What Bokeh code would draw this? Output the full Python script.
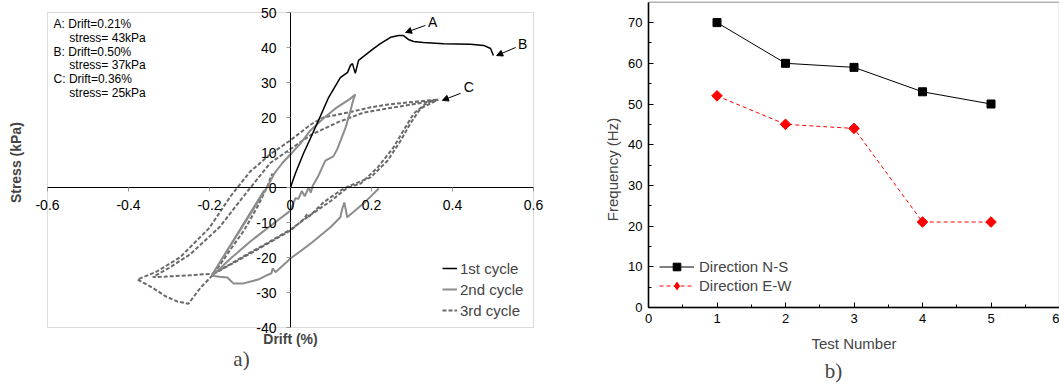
import math
from bokeh.plotting import figure
from bokeh.models import (Range1d, FixedTicker, Label, Arrow, NormalHead, BoxAnnotation,
                          ColumnDataSource, Legend, LegendItem)
from bokeh.layouts import row
from bokeh.embed import file_html
from bokeh.resources import INLINE
from bokeh.core.properties import value

SANS = "Liberation Sans"
SERIF = "Liberation Serif"

# ---------------- Panel a) : hysteresis data (drift %, stress kPa) ----------------
cycle1_drift = [0.0, 0.012, 0.032, 0.049, 0.069, 0.094, 0.123, 0.141, 0.148, 0.153, 0.160,
                0.168, 0.190, 0.205, 0.222, 0.247, 0.267, 0.279, 0.291, 0.304, 0.328,
                0.378, 0.444, 0.477, 0.494, 0.501]
cycle1_stress = [0.0, 4.0, 9.7, 14.0, 19.1, 25.7, 31.4, 32.9, 34.9, 35.4, 32.6,
                 36.3, 38.3, 39.7, 41.1, 42.9, 43.4, 43.4, 42.3, 41.7, 41.4,
                 41.1, 40.9, 40.6, 39.7, 37.7]

cycle2_drift = [-0.065, -0.195, -0.058, -0.040, -0.020, 0.000, 0.025, 0.049, 0.081, 0.111,
                0.148, 0.160, 0.156, 0.146, 0.136, 0.116, 0.106, 0.086, 0.067, 0.055,
                0.050, 0.045, 0.035, 0.028, 0.020, 0.012, 0.000, -0.050, -0.100, -0.150,
                -0.193, -0.175, -0.156, -0.141, -0.116, -0.080, -0.059, -0.047, -0.044,
                -0.037, 0.000, 0.050, 0.100, 0.123, 0.128, 0.133, 0.140, 0.180, 0.218]
cycle2_stress = [-0.8, -25.2, 0.0, 4.0, 7.0, 9.5, 12.6, 16.3, 19.7, 22.6,
                 25.4, 26.6, 25.4, 21.1, 17.1, 11.1, 8.9, 7.7, 2.9, 0.5,
                 -1.5, 0.0, -2.5, -1.0, -3.2, -3.1, -6.6, -11.0, -15.5, -20.5,
                 -25.2, -25.5, -25.7, -27.4, -27.4, -26.3, -25.1, -24.5, -23.1,
                 -24.2, -20.3, -16.0, -11.2, -8.5, -6.0, -4.3, -8.5, -4.6, -0.3]

cycle3_drift = [-0.190, -0.140, -0.100, -0.050, 0.000, 0.035, 0.041, 0.046, 0.082, 0.123, 0.144,
                0.198, 0.240, 0.272, 0.296, 0.321, 0.365,
                0.314, 0.240, 0.180, 0.116, 0.074, 0.050, 0.000, -0.050, -0.109, -0.175,
                -0.247, -0.300, -0.340,
                -0.300, -0.250, -0.190,
                -0.150, -0.100, -0.050, 0.000, 0.050, 0.100, 0.141,
                0.173, 0.215, 0.254, 0.279, 0.304, 0.338, 0.365,
                0.314, 0.240, 0.198, 0.141, 0.081, 0.050, 0.000, -0.050, -0.100, -0.148,
                -0.200, -0.272, -0.330, -0.378,
                -0.341, -0.310, -0.279, -0.252, -0.222, -0.190, -0.156, -0.115, -0.082,
                -0.058, -0.045]
cycle3_stress = [-24.7, -21.5, -18.9, -15.6, -12.3, -8.8, -7.5, -8.3, -4.2, -0.9, 0.4,
                 2.9, 7.7, 13.4, 18.3, 22.6, 25.1,
                 24.0, 22.6, 21.4, 18.6, 16.3, 15.0, 11.0, 7.0, -1.5, -11.3,
                 -19.0, -23.0, -25.6,
                 -25.4, -25.1, -24.6,
                 -22.0, -18.6, -15.4, -12.0, -7.8, -3.8, 0.0,
                 1.1, 5.7, 11.4, 16.3, 21.1, 24.3, 25.1,
                 24.6, 23.7, 22.9, 21.4, 20.0, 18.0, 13.5, 9.5, 4.5, -2.5,
                 -11.5, -19.9, -24.0, -26.3,
                 -28.6, -31.0, -32.6, -33.2, -28.6, -24.8, -19.0, -12.3, -5.6,
                 0.1, 4.0]

cycle_names = ["1st cycle", "2nd cycle", "3rd cycle"]

drift_ticks = [-0.6, -0.4, -0.2, 0.0, 0.2, 0.4, 0.6]
drift_tick_labels = ["-0.6", "-0.4", "-0.2", "0", "0.2", "0.4", "0.6"]
stress_ticks = [-40, -30, -20, -10, 0, 10, 20, 30, 40, 50]
stress_tick_labels = ["-40", "-30", "-20", "-10", "0", "10", "20", "30", "40", "50"]

point_names = ["A", "B", "C"]
point_text_drift = [0.351, 0.573, 0.440]
point_text_stress = [47.4, 41.1, 28.6]
arrow_from_drift = [0.333, 0.556, 0.420]
arrow_from_stress = [46.3, 40.0, 26.9]
arrow_to_drift = [0.284, 0.509, 0.375]
arrow_to_stress = [44.3, 37.7, 24.9]

note_lines = ["A: Drift=0.21%", "stress= 43kPa",
              "B: Drift=0.50%", "stress= 37kPa",
              "C: Drift=0.36%", "stress= 25kPa"]

# ---------------- Panel b) : frequency data ----------------
test_number = [1, 2, 3, 4, 5]
freq_ns = [70, 60, 59, 53, 50]
freq_ew = [52, 45, 44, 21, 21]
series_names = ["Direction N-S", "Direction E-W"]
test_ticks = [0, 1, 2, 3, 4, 5, 6]
test_minor = [0.5, 1.5, 2.5, 3.5, 4.5, 5.5]
freq_ticks = [0, 10, 20, 30, 40, 50, 60, 70]
freq_minor = [5, 15, 25, 35, 45, 55, 65]

# ---------------- layout calibration (pixels) ----------------
W1, W2, H = 565, 494, 385
A_X0, A_PX = 290.0, 405.0      # drift 0 at x=290 px, 405 px per 1 %
A_Y0, A_PY = 187.0, 3.5        # stress 0 at y=187 px, 3.5 px per kPa
B_LEFT = W1
B_X0, B_PX = 648.0, 68.5
B_Y0, B_PY = 307.0, 4.07

a_xr = Range1d((0 - A_X0) / A_PX, (W1 - A_X0) / A_PX)
a_yr = Range1d((A_Y0 - H) / A_PY, A_Y0 / A_PY)
b_xr = Range1d((B_LEFT - B_X0) / B_PX, (B_LEFT + W2 - B_X0) / B_PX)
b_yr = Range1d((B_Y0 - H) / B_PY, B_Y0 / B_PY)

# ======================= figure a =======================
p1 = figure(width=W1, height=H, x_range=a_xr, y_range=a_yr,
            output_backend="svg", toolbar_location=None, min_border=0)
p1.grid.visible = False
p1.outline_line_color = None
p1.background_fill_color = "white"
p1.border_fill_color = "white"

p1.add_layout(BoxAnnotation(left=drift_ticks[0], right=drift_ticks[-1],
                            bottom=stress_ticks[0], top=stress_ticks[-1],
                            fill_alpha=0, line_color="#8a8a8a", line_width=1, level="underlay"))

xa = p1.xaxis[0]
ya = p1.yaxis[0]
xa.ticker = FixedTicker(ticks=drift_ticks, minor_ticks=[])
xa.major_label_overrides = dict(zip(drift_ticks, drift_tick_labels))
xa.bounds = (drift_ticks[0], drift_ticks[-1])
ya.ticker = FixedTicker(ticks=stress_ticks, minor_ticks=[])
ya.major_label_overrides = dict(zip(stress_ticks, stress_tick_labels))
ya.bounds = (stress_ticks[0], stress_ticks[-1])
for ax in (xa, ya):
    ax.fixed_location = 0
    ax.axis_line_color = "black"
    ax.axis_line_width = 1
    ax.major_tick_line_color = "#9a9a9a"
    ax.major_tick_in = 0
    ax.major_tick_out = 4
    ax.minor_tick_line_color = None
    ax.major_label_text_font = SANS
    ax.major_label_text_font_size = "14px"
    ax.major_label_text_color = "black"
xa.major_label_standoff = 8
ya.major_label_standoff = 10

r3 = p1.line(cycle3_drift, cycle3_stress, line_color="#6a6a6a", line_width=2, line_dash="4 2")
r2 = p1.line(cycle2_drift, cycle2_stress, line_color="#8c8c8c", line_width=2)
r1 = p1.line(cycle1_drift, cycle1_stress, line_color="black", line_width=1.5)

leg1 = Legend(items=[LegendItem(label=cycle_names[0], renderers=[r1]),
                     LegendItem(label=cycle_names[1], renderers=[r2]),
                     LegendItem(label=cycle_names[2], renderers=[r3])],
              location=(442, 66), border_line_color=None, background_fill_alpha=0,
              label_text_font=SANS, label_text_font_size="15px",
              glyph_width=15, glyph_height=18, label_height=18, label_standoff=3,
              spacing=3, padding=2, margin=0)
p1.add_layout(leg1)

note_x = [-0.585 if i % 2 == 0 else -0.546 for i in range(len(note_lines))]
note_y = [46.6 - 3.9 * i for i in range(len(note_lines))]
p1.text(x=note_x, y=note_y, text=note_lines, text_font=value(SANS), text_font_size="12px",
        text_align="left", text_baseline="middle", text_color="black")

p1.text(x=point_text_drift, y=point_text_stress, text=point_names, text_font=value(SANS),
        text_font_size="14px", text_align="center", text_baseline="middle", text_color="black")
arrow_src = ColumnDataSource(dict(x0=arrow_from_drift, y0=arrow_from_stress,
                                  x1=arrow_to_drift, y1=arrow_to_stress))
p1.add_layout(Arrow(end=NormalHead(size=6, fill_color="black", line_color="black", line_width=1),
                    x_start="x0", y_start="y0", x_end="x1", y_end="y1", source=arrow_src,
                    line_color="black", line_width=1))

p1.add_layout(Label(x=0, y=-43.4, text="Drift (%)", text_font=SANS, text_font_size="14px",
                    text_font_style="bold", text_align="center", text_baseline="middle"))
p1.add_layout(Label(x=-0.679, y=7.1, text="Stress (kPa)", text_font=SANS, text_font_size="14px",
                    text_font_style="bold", text_align="center", text_baseline="middle",
                    angle=math.pi / 2))
p1.add_layout(Label(x=-0.121, y=-49.1, text="a)", text_font=SERIF, text_font_size="21px",
                    text_align="center", text_baseline="middle"))

# ======================= figure b =======================
p2 = figure(width=W2, height=H, x_range=b_xr, y_range=b_yr,
            output_backend="svg", toolbar_location=None, min_border=0)
p2.grid.visible = False
p2.outline_line_color = None
p2.background_fill_color = "white"
p2.border_fill_color = "white"

p2.add_layout(BoxAnnotation(left=test_ticks[0], right=test_ticks[-1], bottom=0, top=75,
                            fill_alpha=0, line_color="black", line_width=1.5, level="underlay"))

xb = p2.xaxis[0]
yb = p2.yaxis[0]
xb.ticker = FixedTicker(ticks=test_ticks, minor_ticks=test_minor)
xb.bounds = (test_ticks[0], test_ticks[-1])
yb.ticker = FixedTicker(ticks=freq_ticks, minor_ticks=freq_minor)
yb.bounds = (0, 75)
for ax in (xb, yb):
    ax.fixed_location = 0
    ax.axis_line_color = "black"
    ax.axis_line_width = 1.5
    ax.major_tick_line_color = "black"
    ax.major_tick_line_width = 1
    ax.major_tick_in = 5
    ax.major_tick_out = 0
    ax.minor_tick_line_color = "black"
    ax.minor_tick_in = 3
    ax.minor_tick_out = 0
    ax.major_label_text_font = SANS
    ax.major_label_text_font_size = "13px"
    ax.major_label_text_color = "black"
xb.major_label_standoff = 6
yb.major_label_standoff = 6

ns_line = p2.line(test_number, freq_ns, line_color="black", line_width=1)
ns_pts = p2.scatter(test_number, freq_ns, marker="square", size=8, fill_color="black",
                    line_color="black")
ew_line = p2.line(test_number, freq_ew, line_color="red", line_width=1, line_dash="4 3")
# diamond symbol (used as legend key; hidden below the rotated squares)
ew_key = p2.scatter(test_number, freq_ew, marker="diamond", size=9, fill_color="red",
                    line_color="red")
ew_pts = p2.scatter(test_number, freq_ew, marker="square", angle=math.pi / 4, size=7.5,
                    fill_color="red", line_color="red")

leg2 = Legend(items=[LegendItem(label=series_names[0], renderers=[ns_line, ns_pts]),
                     LegendItem(label=series_names[1], renderers=[ew_line, ew_key])],
              location=(94, 90), border_line_color=None, background_fill_alpha=0,
              label_text_font=SANS, label_text_font_size="15px",
              glyph_width=35, glyph_height=19, label_height=19, label_standoff=5,
              spacing=0, padding=4, margin=0)
p2.add_layout(leg2)

p2.add_layout(Label(x=-0.526, y=33.9, text="Frequency (Hz)", text_font=SANS,
                    text_font_size="15px", text_align="center", text_baseline="middle",
                    angle=math.pi / 2))
p2.add_layout(Label(x=3.0, y=-8.85, text="Test Number", text_font=SANS, text_font_size="15px",
                    text_align="center", text_baseline="middle"))
p2.add_layout(Label(x=2.70, y=-15.5, text="b)", text_font=SERIF, text_font_size="21px",
                    text_align="center", text_baseline="middle"))

layout = row(p1, p2)
open("out.html", "w").write(file_html(layout, INLINE))
